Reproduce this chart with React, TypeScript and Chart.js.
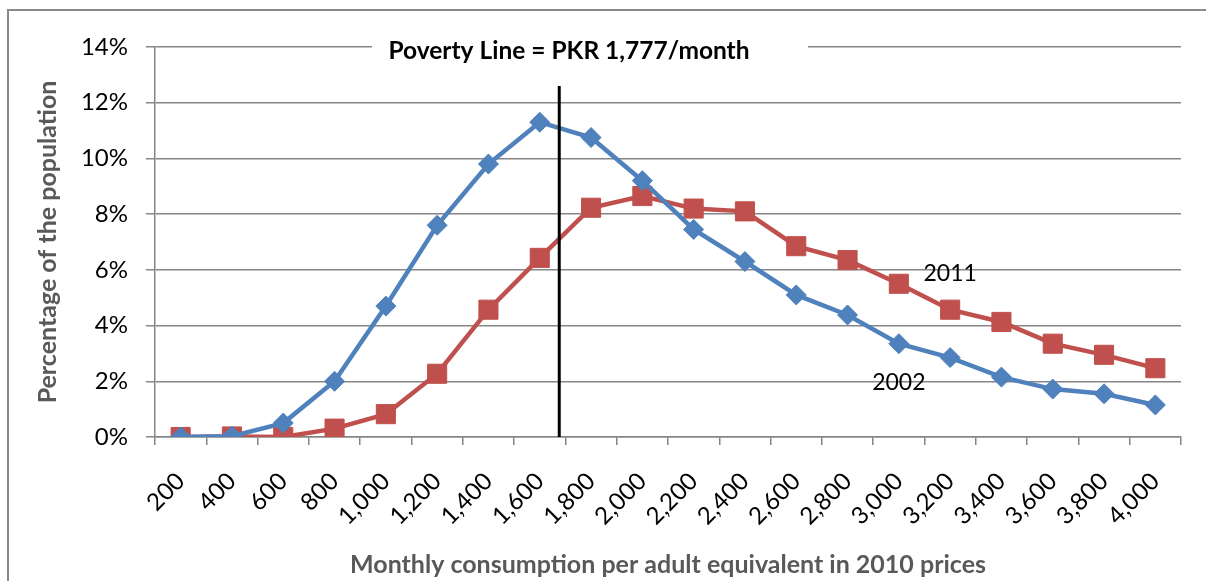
import React, { useEffect, useRef } from "react";
import { Chart, registerables } from "chart.js";

Chart.register(...registerables);

const categories = [
  "200", "400", "600", "800", "1,000", "1,200", "1,400", "1,600", "1,800", "2,000",
  "2,200", "2,400", "2,600", "2,800", "3,000", "3,200", "3,400", "3,600", "3,800", "4,000",
];
const series2002 = [
  0.0, 0.03, 0.5, 2.0, 4.7, 7.6, 9.8, 11.3, 10.75, 9.2,
  7.45, 6.3, 5.1, 4.38, 3.35, 2.85, 2.15, 1.72, 1.55, 1.15,
];
const series2011 = [
  0.0, 0.02, 0.0, 0.3, 0.82, 2.27, 4.57, 6.43, 8.23, 8.65,
  8.2, 8.1, 6.85, 6.35, 5.5, 4.57, 4.13, 3.35, 2.95, 2.47,
];
const yMin = 0;
const yMax = 14;
const yStep = 2;
const povertyTitle = "Poverty Line = PKR 1,777/month";
const povertyLineIndex = 7.38;
const povertyLineTop = 12.6;
const seriesLabels = [
  { text: "2011", index: 15, value: 5.85 },
  { text: "2002", index: 14, value: 1.95 },
];
const xTitle = "Monthly consumption per adult equivalent in 2010 prices";
const yTitle = "Percentage of the population";

const FONT = "Lato, 'Open Sans', sans-serif";
const GRID = "#868686";

export default function App() {
  const ref = useRef<HTMLCanvasElement>(null);

  useEffect(() => {
    const canvas = ref.current!;
    const overlay = {
      id: "overlay",
      beforeDraw(chart: any) {
        const ctx = chart.ctx;
        ctx.save();
        ctx.fillStyle = "#ffffff";
        ctx.fillRect(0, 0, chart.width, chart.height);
        ctx.restore();
      },
      afterDatasetsDraw(chart: any) {
        const ctx = chart.ctx;
        const xs = chart.scales.x;
        const ys = chart.scales.y;
        const x = xs.getPixelForValue(povertyLineIndex);
        ctx.save();
        ctx.strokeStyle = "#000000";
        ctx.lineWidth = 3;
        ctx.beginPath();
        ctx.moveTo(x, ys.getPixelForValue(povertyLineTop));
        ctx.lineTo(x, ys.getPixelForValue(yMin));
        ctx.stroke();
        ctx.restore();
      },
      afterDraw(chart: any) {
        const ctx = chart.ctx;
        const xs = chart.scales.x;
        const ys = chart.scales.y;
        ctx.save();
        ctx.fillStyle = "#ffffff";
        ctx.fillRect(372, 36, 436, 28);
        ctx.fillStyle = "#000000";
        ctx.font = `bold 24.5px ${FONT}`;
        ctx.textAlign = "center";
        ctx.textBaseline = "middle";
        ctx.fillText(povertyTitle, 569, 51);
        ctx.font = `23px ${FONT}`;
        for (const l of seriesLabels) {
          ctx.fillText(l.text, xs.getPixelForValue(l.index), ys.getPixelForValue(l.value));
        }
        ctx.restore();
      },
    };

    const chart = new Chart(canvas, {
      type: "line",
      data: {
        labels: categories,
        datasets: [
          {
            label: "2002",
            data: series2002,
            borderColor: "#4F81BD",
            backgroundColor: "#4F81BD",
            borderWidth: 4.5,
            pointStyle: "rectRot",
            pointRadius: 10,
            pointBorderWidth: 1,
            pointBackgroundColor: "#4F81BD",
            pointBorderColor: "#4F81BD",
            tension: 0,
          },
          {
            label: "2011",
            data: series2011,
            borderColor: "#C0504D",
            backgroundColor: "#C0504D",
            borderWidth: 4.5,
            pointStyle: "rect",
            pointRadius: 13.5,
            pointBorderWidth: 1,
            pointBackgroundColor: "#C0504D",
            pointBorderColor: "#C0504D",
            tension: 0,
          },
        ],
      },
      options: {
        animation: false,
        responsive: false,
        layout: { padding: { top: 47, right: 25, bottom: 0, left: 0 } },
        plugins: {
          legend: { display: false },
          title: { display: false },
          tooltip: { enabled: false },
        },
        scales: {
          x: {
            type: "category",
            offset: true,
            afterFit: (s: any) => {
              s.height = 144;
            },
            grid: {
              drawOnChartArea: false,
              drawTicks: true,
              tickLength: 8,
              color: GRID,
              lineWidth: 1.5,
              offset: true,
            },
            border: { display: true, color: GRID, width: 1.5 },
            ticks: {
              minRotation: 45,
              maxRotation: 45,
              autoSkip: false,
              color: "#000000",
              font: { family: FONT, size: 24 },
              padding: 22,
            },
            title: {
              display: true,
              text: xTitle,
              color: "#595959",
              font: { family: FONT, size: 25, weight: "bold" },
              padding: { top: 0, bottom: 1 },
            },
          },
          y: {
            min: yMin,
            max: yMax,
            afterFit: (s: any) => {
              s.width = 155;
            },
            ticks: {
              stepSize: yStep,
              color: "#000000",
              font: { family: FONT, size: 24 },
              padding: 18,
              callback: (v: any) => `${v}%`,
            },
            grid: {
              color: GRID,
              lineWidth: 1.5,
              tickLength: 9,
              drawTicks: true,
            },
            border: { display: true, color: GRID, width: 1.5 },
            title: {
              display: true,
              text: yTitle,
              color: "#595959",
              font: { family: FONT, size: 25, weight: "bold" },
              padding: { top: 33, bottom: 0 },
            },
          },
        },
      },
      plugins: [overlay],
    });
    return () => chart.destroy();
  }, []);

  return (
    <div style={{ position: "absolute", left: 0, top: 0, width: 1206, height: 581, background: "#fff" }}>
      <canvas ref={ref} width={1206} height={581} style={{ position: "absolute", left: 0, top: 0 }} />
      <div
        style={{
          position: "absolute",
          left: 7,
          top: 9,
          right: 0,
          bottom: 0,
          borderTop: "2px solid #8a8a8a",
          borderLeft: "2px solid #8a8a8a",
          pointerEvents: "none",
        }}
      />
    </div>
  );
}
